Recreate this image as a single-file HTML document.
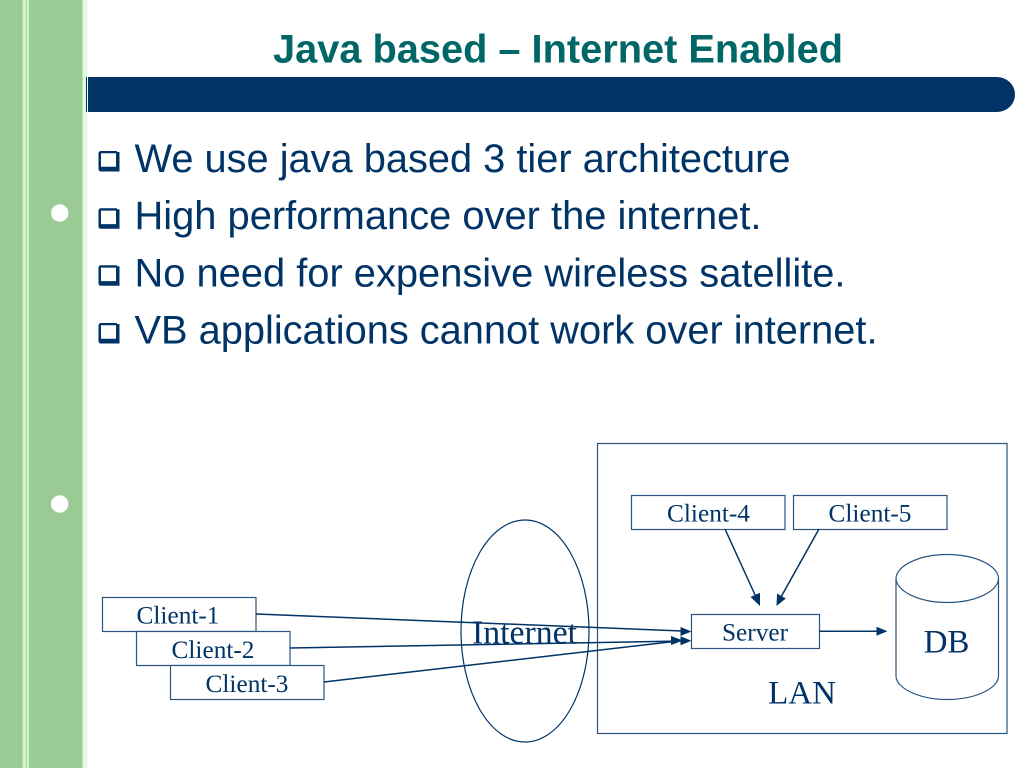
<!DOCTYPE html>
<html>
<head>
<meta charset="utf-8">
<style>
html,body{margin:0;padding:0;background:#fff;width:1024px;height:768px;overflow:hidden}
svg{display:block}
.s{font-family:"Liberation Sans",sans-serif}
.t{font-family:"Liberation Serif",serif;fill:#003366}
.b{font-size:40px;fill:#003366}
.box{fill:#fff;stroke:#2a5580;stroke-width:1.2}
.ln{stroke:#003366;stroke-width:1.5;fill:none}
.ar{fill:#003366}
.c{font-size:25.300px}
.l{font-size:33px}
</style>
</head>
<body>
<svg width="1024" height="768" viewBox="0 0 1024 768" xmlns="http://www.w3.org/2000/svg">
<rect width="1024" height="768" fill="#fff"/>
<rect x="0" y="0" width="82" height="768" fill="#9bcb95"/>
<rect x="82" y="0" width="1" height="768" fill="#b4e6ac"/>
<rect x="83" y="0" width="4.500" height="768" fill="#e2fadd"/>
<rect x="22.500" y="0" width="3.800" height="768" fill="#d2f3ca"/>
<rect x="27" y="0" width="2" height="768" fill="#d2f3ca"/>
<circle cx="59.700" cy="213" r="8.700" fill="#fff"/>
<circle cx="59.700" cy="504" r="8.700" fill="#fff"/>

<text class="s" x="273" y="62.500" font-size="40" font-weight="bold" fill="#006666" textLength="570" lengthAdjust="spacingAndGlyphs">Java based – Internet Enabled</text>

<path d="M88 77H997a18 17.500 0 0 1 0 35H88Z" fill="#003366"/>
<rect x="86" y="77" width="1" height="35" fill="#003366"/>

<g fill="#003366">
<path fill-rule="evenodd" d="M100 151H117V152H119.500V171.500H100L98.500 170V152.500ZM101 153.300V166.800H116V153.300Z"/>
<path fill-rule="evenodd" d="M100 208.300H117V209.300H119.500V228.800H100L98.500 227.300V209.800ZM101 210.600V224.100H116V210.600Z"/>
<path fill-rule="evenodd" d="M100 265.300H117V266.300H119.500V285.800H100L98.500 284.300V266.800ZM101 267.600V281.100H116V267.600Z"/>
<path fill-rule="evenodd" d="M100 323H117V324H119.500V343.500H100L98.500 342V324.500ZM101 325.300V338.800H116V325.300Z"/>
</g>
<text class="s b" x="134.500" y="172" textLength="656" lengthAdjust="spacingAndGlyphs">We use java based 3 tier architecture</text>
<text class="s b" x="134.500" y="229" textLength="627" lengthAdjust="spacingAndGlyphs">High performance over the internet.</text>
<text class="s b" x="134.500" y="286.500" textLength="711" lengthAdjust="spacingAndGlyphs">No need for expensive wireless satellite.</text>
<text class="s b" x="134.500" y="343.500" textLength="743" lengthAdjust="spacingAndGlyphs">VB applications cannot work over internet.</text>

<rect x="597.500" y="443.500" width="409.500" height="290" fill="#fff" stroke="#2a5580" stroke-width="1.200"/>
<ellipse cx="525" cy="631" rx="64" ry="111" fill="none" stroke="#003366" stroke-width="1.200"/>

<rect class="box" x="102.500" y="597.500" width="153.500" height="34"/>
<rect class="box" x="136.500" y="631.500" width="153.500" height="34"/>
<rect class="box" x="170.500" y="665.500" width="153.500" height="34"/>
<rect class="box" x="631.500" y="495.500" width="153.500" height="34"/>
<rect class="box" x="793.500" y="495.500" width="153.500" height="34"/>
<rect class="box" x="691.500" y="614.500" width="128" height="34"/>

<text class="t c" x="178" y="623.500" text-anchor="middle">Client-1</text>
<text class="t c" x="213" y="658" text-anchor="middle">Client-2</text>
<text class="t c" x="247" y="692" text-anchor="middle">Client-3</text>
<text class="t c" x="708.500" y="521.500" text-anchor="middle">Client-4</text>
<text class="t c" x="870" y="521.500" text-anchor="middle">Client-5</text>
<text class="t c" x="755" y="640.500" text-anchor="middle">Server</text>
<text class="t" x="524.500" y="643.500" font-size="33.800" text-anchor="middle">Internet</text>
<text class="t l" x="946.500" y="652.500" text-anchor="middle">DB</text>
<text class="t l" x="802" y="703.500" text-anchor="middle">LAN</text>

<path d="M896 578.500C896 566 919 554.500 947 554.500C976 554.500 998.500 566 998.500 578.500V676C998.500 688 976 699.500 947 699.500C919 699.500 896 688 896 676Z" fill="none" stroke="#2a5580" stroke-width="1.200"/>
<path d="M896 578.500C896 591 919 602.500 947 602.500C976 602.500 998.500 591 998.500 578.500" fill="none" stroke="#2a5580" stroke-width="1.200"/>

<line class="ln" x1="256" y1="614" x2="682" y2="631"/>
<path class="ar" d="M691.500 631.500L680.500 627V636Z"/>
<line class="ln" x1="290" y1="648" x2="682" y2="641"/>
<path class="ar" d="M691.500 640.800L680.500 636.300V645.300Z"/>
<line class="ln" x1="324" y1="682" x2="674" y2="641.500"/>
<path class="ar" d="M683 640.500L671 636V645Z"/>
<line class="ln" x1="725" y1="529" x2="756" y2="597"/>
<path class="ar" d="M760 606L750.500 597L760 592.800Z"/>
<line class="ln" x1="819" y1="529" x2="781" y2="597"/>
<path class="ar" d="M776.500 606L777 593.500L785.800 598.500Z"/>
<line class="ln" x1="819" y1="631.200" x2="880" y2="631.200"/>
<path class="ar" d="M887.500 631.200L876.500 626.700V635.700Z"/>
</svg>
</body>
</html>
